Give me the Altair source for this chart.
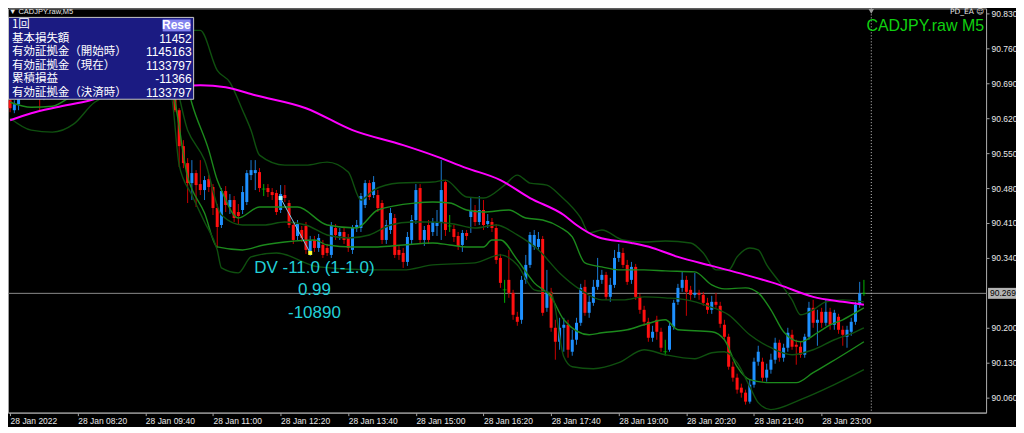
import altair as alt
import pandas as pd

# ---------------- data ----------------
tick_labels = ["28 Jan 2022", "28 Jan 08:20", "28 Jan 09:40", "28 Jan 11:00", "28 Jan 12:20",
               "28 Jan 13:40", "28 Jan 15:00", "28 Jan 16:20", "28 Jan 17:40", "28 Jan 19:00",
               "28 Jan 20:20", "28 Jan 21:40", "28 Jan 23:00"]
tick_idx = [0, 16, 32, 48, 64, 80, 96, 112, 128, 144, 160, 176, 192]
price_ticks = [90.060, 90.130, 90.200, 90.340, 90.410, 90.480, 90.550, 90.620, 90.690, 90.760, 90.830]

opens = [
    90.656, 90.636, 90.648, 90.666, 90.680, 90.696, 90.686, 90.672, 90.668, 90.676,
    90.692, 90.704, 90.696, 90.684, 90.676, 90.688, 90.706, 90.716, 90.708, 90.720,
    90.732, 90.724, 90.712, 90.716, 90.728, 90.736, 90.724, 90.712, 90.700, 90.708,
    90.716, 90.704, 90.692, 90.700, 90.712, 90.704, 90.696, 90.700, 90.688, 90.672,
    90.636, 90.564, 90.530, 90.490, 90.510, 90.488, 90.476, 90.498, 90.482, 90.440,
    90.406, 90.474, 90.442, 90.456, 90.432, 90.436, 90.452, 90.506, 90.510, 90.512,
    90.478, 90.480, 90.472, 90.470, 90.436, 90.466, 90.450, 90.406, 90.384, 90.396,
    90.404, 90.350, 90.376, 90.360, 90.366, 90.360, 90.346, 90.400, 90.384, 90.392,
    90.380, 90.356, 90.400, 90.400, 90.446, 90.490, 90.466, 90.466, 90.450, 90.376,
    90.396, 90.420, 90.356, 90.350, 90.332, 90.376, 90.416, 90.480, 90.376, 90.406,
    90.392, 90.404, 90.412, 90.492, 90.404, 90.398, 90.384, 90.366, 90.390, 90.422,
    90.436, 90.412, 90.436, 90.408, 90.412, 90.400, 90.340, 90.276, 90.296, 90.270,
    90.222, 90.216, 90.296, 90.326, 90.362, 90.362, 90.378, 90.240, 90.272, 90.200,
    90.172, 90.200, 90.206, 90.152, 90.176, 90.210, 90.282, 90.230, 90.250, 90.282,
    90.296, 90.306, 90.262, 90.286, 90.340, 90.350, 90.326, 90.296, 90.322, 90.262,
    90.236, 90.212, 90.180, 90.216, 90.192, 90.152, 90.156, 90.202, 90.252, 90.280,
    90.296, 90.276, 90.266, 90.270, 90.266, 90.250, 90.236, 90.252, 90.244, 90.206,
    90.182, 90.122, 90.100, 90.080, 90.070, 90.052, 90.086, 90.132, 90.132, 90.100,
    90.116, 90.136, 90.170, 90.140, 90.160, 90.186, 90.166, 90.162, 90.146, 90.182,
    90.240, 90.210, 90.232, 90.210, 90.232, 90.206, 90.222, 90.196, 90.182, 90.192,
    90.212, 90.246, 90.269]
highs = [
    90.664, 90.656, 90.676, 90.688, 90.706, 90.708, 90.696, 90.684, 90.684, 90.700,
    90.716, 90.712, 90.704, 90.692, 90.696, 90.716, 90.728, 90.724, 90.732, 90.744,
    90.740, 90.732, 90.728, 90.740, 90.748, 90.744, 90.732, 90.720, 90.716, 90.728,
    90.724, 90.712, 90.708, 90.720, 90.720, 90.712, 90.708, 90.708, 90.696, 90.680,
    90.640, 90.576, 90.540, 90.536, 90.516, 90.536, 90.504, 90.506, 90.488, 90.448,
    90.480, 90.484, 90.468, 90.464, 90.448, 90.484, 90.516, 90.536, 90.536, 90.520,
    90.488, 90.488, 90.480, 90.476, 90.486, 90.486, 90.456, 90.412, 90.416, 90.404,
    90.412, 90.384, 90.384, 90.388, 90.376, 90.368, 90.412, 90.408, 90.400, 90.400,
    90.388, 90.406, 90.416, 90.470, 90.496, 90.496, 90.504, 90.476, 90.456, 90.416,
    90.440, 90.428, 90.364, 90.360, 90.392, 90.426, 90.488, 90.488, 90.404, 90.416,
    90.420, 90.436, 90.536, 90.496, 90.426, 90.406, 90.392, 90.396, 90.396, 90.460,
    90.446, 90.464, 90.456, 90.428, 90.420, 90.408, 90.348, 90.296, 90.356, 90.276,
    90.232, 90.304, 90.346, 90.392, 90.396, 90.392, 90.384, 90.316, 90.280, 90.216,
    90.220, 90.220, 90.216, 90.196, 90.220, 90.288, 90.296, 90.264, 90.296, 90.340,
    90.316, 90.312, 90.300, 90.356, 90.368, 90.360, 90.336, 90.332, 90.328, 90.268,
    90.244, 90.220, 90.204, 90.224, 90.200, 90.176, 90.212, 90.256, 90.288, 90.312,
    90.304, 90.284, 90.310, 90.276, 90.272, 90.260, 90.264, 90.270, 90.252, 90.216,
    90.188, 90.132, 90.108, 90.088, 90.076, 90.096, 90.140, 90.164, 90.140, 90.128,
    90.148, 90.180, 90.176, 90.168, 90.200, 90.196, 90.176, 90.172, 90.188, 90.252,
    90.256, 90.236, 90.240, 90.256, 90.240, 90.236, 90.228, 90.204, 90.204, 90.220,
    90.252, 90.292, 90.296]
lows = [
    90.632, 90.630, 90.636, 90.660, 90.672, 90.676, 90.664, 90.636, 90.656, 90.668,
    90.684, 90.688, 90.672, 90.662, 90.668, 90.680, 90.696, 90.700, 90.700, 90.712,
    90.716, 90.704, 90.704, 90.708, 90.720, 90.716, 90.704, 90.692, 90.688, 90.700,
    90.696, 90.684, 90.680, 90.692, 90.696, 90.688, 90.684, 90.680, 90.668, 90.632,
    90.522, 90.520, 90.450, 90.456, 90.442, 90.466, 90.456, 90.472, 90.426, 90.360,
    90.400, 90.432, 90.428, 90.412, 90.408, 90.428, 90.446, 90.496, 90.476, 90.472,
    90.464, 90.462, 90.456, 90.426, 90.430, 90.452, 90.400, 90.368, 90.376, 90.372,
    90.348, 90.344, 90.352, 90.352, 90.340, 90.344, 90.340, 90.376, 90.376, 90.368,
    90.352, 90.348, 90.392, 90.392, 90.440, 90.456, 90.460, 90.432, 90.368, 90.368,
    90.388, 90.340, 90.336, 90.320, 90.324, 90.368, 90.408, 90.368, 90.364, 90.368,
    90.384, 90.384, 90.376, 90.384, 90.392, 90.372, 90.356, 90.352, 90.376, 90.390,
    90.404, 90.406, 90.396, 90.400, 90.392, 90.328, 90.280, 90.250, 90.260, 90.216,
    90.204, 90.208, 90.288, 90.320, 90.356, 90.356, 90.224, 90.232, 90.192, 90.136,
    90.156, 90.152, 90.140, 90.144, 90.166, 90.204, 90.224, 90.220, 90.244, 90.276,
    90.288, 90.256, 90.252, 90.280, 90.332, 90.320, 90.286, 90.288, 90.256, 90.228,
    90.204, 90.172, 90.172, 90.176, 90.152, 90.144, 90.152, 90.196, 90.246, 90.272,
    90.224, 90.256, 90.260, 90.256, 90.244, 90.228, 90.228, 90.240, 90.200, 90.176,
    90.116, 90.092, 90.068, 90.060, 90.046, 90.048, 90.080, 90.124, 90.092, 90.092,
    90.108, 90.128, 90.132, 90.132, 90.152, 90.156, 90.126, 90.140, 90.140, 90.176,
    90.200, 90.164, 90.200, 90.204, 90.196, 90.196, 90.188, 90.164, 90.160, 90.184,
    90.206, 90.240, 90.264]
closes = [
    90.640, 90.648, 90.666, 90.680, 90.696, 90.686, 90.672, 90.668, 90.676, 90.692,
    90.704, 90.696, 90.684, 90.676, 90.688, 90.706, 90.716, 90.708, 90.720, 90.732,
    90.724, 90.712, 90.716, 90.728, 90.736, 90.724, 90.712, 90.700, 90.708, 90.716,
    90.704, 90.692, 90.700, 90.712, 90.704, 90.696, 90.700, 90.688, 90.672, 90.636,
    90.564, 90.530, 90.490, 90.510, 90.486, 90.476, 90.496, 90.482, 90.440, 90.402,
    90.474, 90.446, 90.456, 90.420, 90.424, 90.472, 90.510, 90.516, 90.516, 90.480,
    90.478, 90.472, 90.466, 90.432, 90.468, 90.460, 90.406, 90.376, 90.408, 90.380,
    90.356, 90.376, 90.360, 90.380, 90.346, 90.350, 90.404, 90.386, 90.392, 90.376,
    90.360, 90.400, 90.406, 90.464, 90.490, 90.462, 90.492, 90.440, 90.376, 90.406,
    90.430, 90.346, 90.346, 90.332, 90.382, 90.416, 90.476, 90.376, 90.396, 90.376,
    90.412, 90.412, 90.476, 90.396, 90.404, 90.382, 90.364, 90.390, 90.384, 90.436,
    90.412, 90.436, 90.406, 90.414, 90.400, 90.336, 90.290, 90.276, 90.270, 90.226,
    90.212, 90.296, 90.326, 90.386, 90.386, 90.378, 90.230, 90.272, 90.200, 90.172,
    90.200, 90.206, 90.156, 90.176, 90.210, 90.280, 90.230, 90.252, 90.282, 90.296,
    90.306, 90.262, 90.286, 90.340, 90.352, 90.326, 90.292, 90.322, 90.262, 90.236,
    90.212, 90.180, 90.192, 90.192, 90.160, 90.152, 90.204, 90.250, 90.280, 90.296,
    90.272, 90.266, 90.270, 90.266, 90.250, 90.236, 90.252, 90.246, 90.208, 90.182,
    90.122, 90.100, 90.076, 90.070, 90.052, 90.086, 90.132, 90.152, 90.100, 90.116,
    90.136, 90.170, 90.140, 90.160, 90.190, 90.162, 90.162, 90.146, 90.182, 90.240,
    90.210, 90.216, 90.210, 90.232, 90.206, 90.230, 90.196, 90.186, 90.196, 90.212,
    90.246, 90.269, 90.269]

# Bollinger-style band lines
u2_idx = [0, 10, 20, 30, 38, 45, 49, 52, 55, 57, 59, 65, 70, 75, 80, 83, 86, 92, 100, 103, 108, 112,
          117, 120, 123, 127, 130, 135, 137, 140, 145, 150, 155, 161, 164, 167, 170, 172, 175, 177,
          179, 182, 185, 187, 190, 193, 197, 202]
u2_val = [90.776, 90.800, 90.816, 90.806, 90.796, 90.796, 90.716, 90.692, 90.636, 90.596, 90.546,
          90.526, 90.526, 90.532, 90.512, 90.456, 90.476, 90.490, 90.492, 90.496, 90.462, 90.460,
          90.486, 90.506, 90.490, 90.486, 90.466, 90.420, 90.390, 90.396, 90.376, 90.372, 90.374,
          90.370, 90.350, 90.316, 90.316, 90.342, 90.360, 90.356, 90.326, 90.292, 90.256, 90.226,
          90.236, 90.252, 90.256, 90.252]
u1_idx = [0, 10, 20, 30, 38, 41, 43, 47, 49, 50, 54, 59, 68, 75, 82, 87, 96, 100, 104, 108, 112, 118,
          122, 126, 130, 133, 136, 140, 144, 150, 155, 162, 166, 169, 174, 177, 180, 183, 187, 191,
          194, 197, 200, 202]
u1_val = [90.732, 90.746, 90.760, 90.756, 90.746, 90.716, 90.650, 90.556, 90.496, 90.476, 90.420,
          90.442, 90.442, 90.406, 90.400, 90.436, 90.450, 90.452, 90.450, 90.436, 90.432, 90.436,
          90.420, 90.416, 90.402, 90.382, 90.330, 90.322, 90.316, 90.316, 90.314, 90.312, 90.286,
          90.278, 90.280, 90.270, 90.236, 90.192, 90.172, 90.190, 90.206, 90.216, 90.230, 90.240]
mid_idx = [0, 10, 20, 30, 38, 42, 46, 50, 55, 60, 65, 70, 75, 80, 85, 90, 95, 100, 105, 110, 115, 120,
           125, 130, 135, 140, 145, 150, 155, 160, 165, 170, 175, 180, 185, 190, 195, 200, 202]
mid_val = [90.692, 90.696, 90.720, 90.720, 90.712, 90.596, 90.536, 90.426, 90.406, 90.406, 90.412,
           90.406, 90.386, 90.380, 90.386, 90.406, 90.412, 90.412, 90.408, 90.400, 90.406, 90.386,
           90.356, 90.310, 90.276, 90.256, 90.256, 90.262, 90.260, 90.256, 90.244, 90.226, 90.186,
           90.160, 90.146, 90.156, 90.176, 90.192, 90.200]
l1_idx = [0, 5, 10, 15, 20, 30, 38, 42, 46, 49, 55, 60, 65, 72, 75, 81, 87, 93, 100, 104, 108, 112,
          114, 116, 120, 124, 128, 131, 137, 140, 146, 150, 155, 158, 166, 169, 172, 175, 180, 186,
          190, 194, 199, 202]
l1_val = [90.652, 90.642, 90.644, 90.666, 90.680, 90.684, 90.676, 90.502, 90.430, 90.362, 90.356,
          90.366, 90.372, 90.376, 90.366, 90.362, 90.362, 90.366, 90.370, 90.366, 90.362, 90.362,
          90.376, 90.376, 90.336, 90.290, 90.262, 90.216, 90.186, 90.190, 90.196, 90.206, 90.216,
          90.196, 90.192, 90.176, 90.122, 90.096, 90.090, 90.090, 90.110, 90.130, 90.156, 90.172]
l2_idx = [0, 5, 10, 15, 20, 25, 30, 38, 40, 43, 46, 49, 50, 54, 57, 63, 73, 85, 93, 100, 110, 116,
          120, 124, 128, 131, 133, 138, 144, 150, 155, 162, 166, 169, 172, 175, 177, 180, 187, 195, 202]
l2_val = [90.620, 90.596, 90.592, 90.608, 90.652, 90.668, 90.668, 90.666, 90.526, 90.466, 90.412,
          90.356, 90.320, 90.310, 90.342, 90.350, 90.322, 90.316, 90.316, 90.326, 90.330, 90.346,
          90.326, 90.276, 90.270, 90.142, 90.122, 90.118, 90.130, 90.156, 90.146, 90.138, 90.150,
          90.152, 90.130, 90.082, 90.050, 90.036, 90.056, 90.086, 90.116]
ma_idx = [0, 5, 11, 19, 23, 35, 45, 51, 58, 70, 81, 93, 100, 108, 116, 123, 131, 134, 139, 147, 152,
          158, 166, 174, 182, 190, 197, 202]
ma_val = [90.616, 90.630, 90.642, 90.656, 90.666, 90.680, 90.686, 90.682, 90.666, 90.640, 90.596,
          90.566, 90.546, 90.520, 90.496, 90.460, 90.426, 90.406, 90.382, 90.370, 90.360, 90.342,
          90.324, 90.306, 90.286, 90.262, 90.252, 90.246]

trade_idx = [64, 71]
trade_price = [90.460, 90.350]

current_price = 90.269
shift_marker_idx = 203.75

ann_text = ["DV -11.0 (1-1.0)", "0.99", "-10890"]
ann_price = [90.320, 90.276, 90.230]
ann_idx = 72.0

panel_labels = ["1回", "基本損失額", "有効証拠金（開始時）", "有効証拠金（現在）", "累積損益", "有効証拠金（決済時）"]
panel_values = ["", "11452", "1145163", "1133797", "-11366", "1133797"]

# ---------------- build ----------------
W, H = 980, 405
xs = alt.Scale(domain=[-0.5, 230.9], nice=False, zero=False, padding=0)
ys = alt.Scale(domain=[90.030, 90.840], nice=False, zero=False, padding=0)

label_expr = "[" + ",".join("'" + t + "'" for t in tick_labels) + "][round(datum.value/16)]"
xaxis = alt.Axis(values=tick_idx, labelExpr=label_expr, orient="bottom", labelAlign="left",
                 labelColor="#e8e8e8", labelFont="Liberation Sans", labelFontSize=8.5,
                 tickColor="#a0a0a0", tickSize=3, domainColor="#a0a0a0", grid=False, title=None,
                 labelOverlap=False, labelFlush=False, labelPadding=1)
yaxis = alt.Axis(values=price_ticks, format=".3f", orient="right", labelColor="#e8e8e8",
                 labelFont="Liberation Sans", labelFontSize=8.5, tickColor="#a0a0a0", tickSize=3,
                 domainColor="#a0a0a0", grid=False, title=None, labelPadding=2, labelOverlap=False)


def X(f):
    return alt.X(f, scale=xs, axis=xaxis)


def Y(f):
    return alt.Y(f, scale=ys, axis=yaxis)


n = len(closes)
df = pd.DataFrame({"i": list(range(n)), "o": opens, "h": highs, "l": lows, "c": closes})
df["dir"] = ["up" if c > o else ("down" if c < o else "doji") for o, c in zip(opens, closes)]
body_col = {"up": "#1e90ff", "down": "#ff1010", "doji": "#00b400"}
wick_col = {"up": "#1a78d0", "down": "#c80000", "doji": "#00b400"}
df["bc"] = df["dir"].map(body_col)
df["wc"] = df["dir"].map(wick_col)

one = pd.DataFrame({"k": [0]})

price_line = alt.Chart(pd.DataFrame({"p": [current_price]})).mark_rule(
    color="#8a8a8a", strokeWidth=1).encode(y=Y("p:Q"))

wicks = alt.Chart(df).mark_rule(strokeWidth=1).encode(
    x=X("i:Q"), y=Y("l:Q"), y2="h:Q", color=alt.Color("wc:N", scale=None))
bodies = alt.Chart(df).mark_bar(size=3).encode(
    x=X("i:Q"), y=Y("o:Q"), y2="c:Q", color=alt.Color("bc:N", scale=None))
dojis = alt.Chart(df[df["dir"] == "doji"]).mark_tick(
    orient="horizontal", size=4, thickness=1, color="#00b400").encode(x=X("i:Q"), y=Y("c:Q"))

band_rows = []
for name, idx, vals, col in [("u2", u2_idx, u2_val, "#0f500f"), ("u1", u1_idx, u1_val, "#1c8a1c"),
                             ("m", mid_idx, mid_val, "#0f500f"), ("l1", l1_idx, l1_val, "#1c8a1c"),
                             ("l2", l2_idx, l2_val, "#0f500f")]:
    for a, b in zip(idx, vals):
        band_rows.append({"s": name, "i": a, "p": b, "col": col})
bands = alt.Chart(pd.DataFrame(band_rows)).mark_line(strokeWidth=1.4, interpolate="monotone").encode(
    x=X("i:Q"), y=Y("p:Q"), detail="s:N", color=alt.Color("col:N", scale=None))

ma = alt.Chart(pd.DataFrame({"i": ma_idx, "p": ma_val})).mark_line(
    color="#ff00ff", strokeWidth=2, interpolate="monotone").encode(x=X("i:Q"), y=Y("p:Q"))

tdf = pd.DataFrame({"i": trade_idx, "p": trade_price, "col": ["#a8ffff", "#ffff30"]})
trade_line = alt.Chart(tdf).mark_line(color="#7fc8e8", strokeWidth=1).encode(x=X("i:Q"), y=Y("p:Q"))
trade_pts = alt.Chart(tdf).mark_square(size=16, opacity=1, filled=True).encode(
    x=X("i:Q"), y=Y("p:Q"), color=alt.Color("col:N", scale=None))

ann = alt.Chart(pd.DataFrame({"t": ann_text, "p": ann_price, "i": [ann_idx] * 3})).mark_text(
    font="Liberation Sans", fontSize=17, color="#22d0d8", align="center", baseline="middle").encode(
    x=X("i:Q"), y=Y("p:Q"), text="t:N")

shift_line = alt.Chart(pd.DataFrame({"i": [shift_marker_idx]})).mark_rule(
    color="#c8c8c8", strokeDash=[1, 2], strokeWidth=1).encode(x=X("i:Q"))
shift_tri = alt.Chart(pd.DataFrame({"i": [shift_marker_idx]})).mark_point(
    shape="triangle-down", filled=True, size=30, color="#9a9a9a", opacity=1).encode(
    x=X("i:Q"), y=alt.value(3))

price_box = alt.Chart(pd.DataFrame({"p": [current_price]})).mark_tick(
    orient="horizontal", size=30, thickness=11, color="#ffffff").encode(
    x=alt.value(W + 17), y=Y("p:Q"))
price_txt = alt.Chart(pd.DataFrame({"p": [current_price]})).mark_text(
    align="left", baseline="middle", font="Liberation Sans", fontSize=8.5, color="#000000").encode(
    x=alt.value(W + 4), y=Y("p:Q"), text=alt.value(f"{current_price:.3f}"))

# info panel
panel_top, row_h = 9, 13.5
panel = alt.Chart(one).mark_rect(fill="#1b1b82", stroke="#c8c8c8", strokeWidth=1).encode(
    x=alt.value(0.5), x2=alt.value(186), y=alt.value(panel_top), y2=alt.value(panel_top + 82))
btn = alt.Chart(one).mark_rect(fill="#8282ee").encode(
    x=alt.value(155), x2=alt.value(183), y=alt.value(panel_top + 2), y2=alt.value(panel_top + 14))
btn_txt = alt.Chart(one).mark_text(text="Rese", font="Liberation Sans", fontSize=12, fontWeight="bold",
                                   color="#ffffff", align="right", baseline="middle").encode(
    x=alt.value(183), y=alt.value(panel_top + 8))
panel_layers = [panel, btn, btn_txt]
for r, (lab, val) in enumerate(zip(panel_labels, panel_values)):
    yy = panel_top + 8 + r * row_h
    panel_layers.append(alt.Chart(one).mark_text(
        text=lab, font="Noto Sans CJK JP", fontSize=11.5, color="#ffffff", align="left",
        baseline="middle").encode(x=alt.value(4), y=alt.value(yy)))
    if val:
        panel_layers.append(alt.Chart(one).mark_text(
            text=val, font="Liberation Sans", fontSize=12, color="#ffffff", align="right",
            baseline="middle").encode(x=alt.value(184), y=alt.value(yy)))

title_small = alt.Chart(one).mark_text(
    text="▼ CADJPY.raw,M5", font="Liberation Sans", fontSize=7.5, color="#e8e8e8", align="left",
    baseline="top").encode(x=alt.value(1), y=alt.value(0))
pd_ea = alt.Chart(one).mark_text(
    text="PD_EA ☺", font="DejaVu Sans", fontSize=7.5, color="#e8e8e8", align="right",
    baseline="top").encode(x=alt.value(W - 2), y=alt.value(0))
sym = alt.Chart(one).mark_text(
    text="CADJPY.raw M5", font="Liberation Sans", fontSize=16, color="#10d010", align="right",
    baseline="middle").encode(x=alt.value(W - 2), y=alt.value(18))

chart = alt.layer(
    price_line, wicks, bodies, dojis, bands, ma, trade_line, trade_pts, ann, shift_line, shift_tri,
    *panel_layers, title_small, pd_ea, sym, price_box, price_txt
).properties(
    width=W, height=H, autosize="none",
    padding={"left": 0, "top": 0, "right": 30, "bottom": 14}
).configure(background="#000000").configure_view(stroke="#a0a0a0", strokeWidth=1)

chart.save("out.html", embed_options={"renderer": "svg", "actions": False})
